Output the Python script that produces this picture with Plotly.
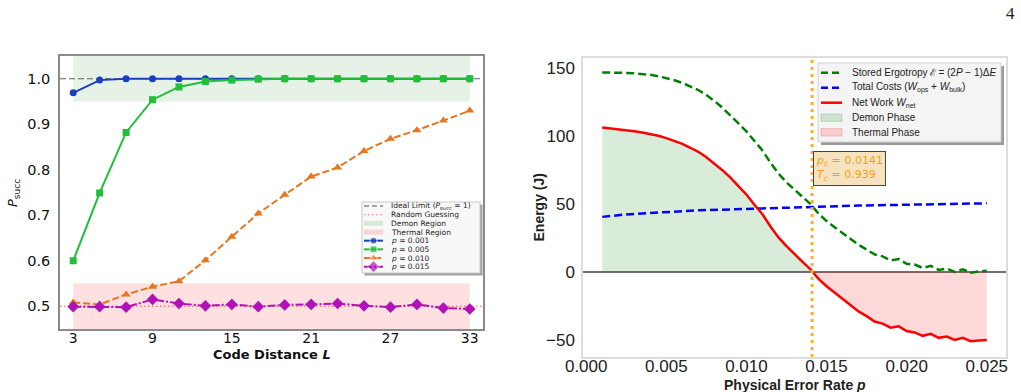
import plotly.graph_objects as go

W, H = 1021, 392

# ---------------- Left panel data ----------------
L = [3, 5, 7, 9, 11, 13, 15, 17, 19, 21, 23, 25, 27, 29, 31, 33]
succ_p001 = [0.969, 0.997, 1.0, 1.0, 1.0, 1.0, 1.0, 1.0, 1.0, 1.0, 1.0, 1.0, 1.0, 1.0, 1.0, 1.0]
succ_p005 = [0.600, 0.749, 0.882, 0.954, 0.982, 0.994, 0.997, 0.999, 1.0, 1.0, 1.0, 1.0, 1.0, 1.0, 1.0, 1.0]
succ_p010 = [0.508, 0.504, 0.526, 0.543, 0.555, 0.601, 0.653, 0.704, 0.745, 0.785, 0.805, 0.841, 0.868, 0.887, 0.908, 0.930]
succ_p015 = [0.499, 0.499, 0.498, 0.515, 0.506, 0.501, 0.504, 0.499, 0.503, 0.504, 0.506, 0.501, 0.498, 0.504, 0.496, 0.494]
series_labels = ["0.001", "0.005", "0.010", "0.015"]
L_ticks = [3, 9, 15, 21, 27, 33]
P_ticks = [0.5, 0.6, 0.7, 0.8, 0.9, 1.0]
ideal_limit = 1.0
random_guess = 0.5
demon_band = (0.95, 1.05)
thermal_band = (0.45, 0.55)

# ---------------- Right panel data ----------------
p_rate = [0.0010, 0.0015, 0.0020, 0.0025, 0.0030, 0.0035, 0.0040, 0.0045, 0.0050, 0.0055,
          0.0060, 0.0065, 0.0070, 0.0075, 0.0080, 0.0085, 0.0090, 0.0095, 0.0100, 0.0105,
          0.0110, 0.0115, 0.0120, 0.0125, 0.0130, 0.0135, 0.0140, 0.0145, 0.0150, 0.0155,
          0.0160, 0.0165, 0.0170, 0.0175, 0.0180, 0.0185, 0.0190, 0.0195, 0.0200, 0.0205,
          0.0210, 0.0215, 0.0220, 0.0225, 0.0230, 0.0235, 0.0240, 0.0245, 0.0250]
ergotropy = [147.0, 147.0, 146.8, 146.6, 146.3, 145.9, 145.2, 144.2, 142.8, 141.2,
             139.3, 136.8, 134.0, 130.3, 126.0, 121.0, 115.5, 109.5, 103.5, 96.5,
             89.5, 80.5, 72.5, 66.0, 60.5, 55.0, 50.0, 43.0, 37.5, 33.0,
             28.5, 24.5, 20.0, 16.5, 13.0, 11.5, 8.5, 9.5, 6.0, 5.5,
             3.0, 4.5, 1.5, 2.5, 0.0, 2.0, -0.5, 0.5, 1.0]
costs = [40.6, 41.3, 41.9, 42.4, 42.8, 43.2, 43.6, 43.9, 44.2, 44.5,
         44.8, 45.1, 45.4, 45.6, 45.8, 46.0, 46.2, 46.4, 46.6, 46.8,
         47.0, 47.2, 47.4, 47.6, 47.7, 47.8, 48.0, 48.1, 48.3, 48.4,
         48.6, 48.7, 48.9, 49.0, 49.1, 49.2, 49.4, 49.5, 49.6, 49.7,
         49.8, 49.9, 50.0, 50.1, 50.2, 50.3, 50.4, 50.5, 50.6]
net_work = [106.4, 105.8, 105.0, 104.3, 103.6, 102.8, 101.6, 100.3, 98.6, 96.5,
            94.3, 91.5, 88.5, 84.5, 80.0, 75.0, 69.5, 63.0, 57.0, 49.5,
            42.5, 33.5, 25.5, 19.0, 13.0, 7.5, 2.0, -5.0, -10.5, -15.0,
            -19.5, -24.5, -29.0, -32.5, -36.5, -38.0, -41.0, -40.0, -43.5, -44.5,
            -47.0, -45.5, -48.5, -47.5, -50.0, -48.5, -51.0, -50.5, -50.0]
p_c = 0.0141
T_c = 0.939
p_ticks = [0.000, 0.005, 0.010, 0.015, 0.020, 0.025]
E_ticks = [-50, 0, 50, 100, 150]

# ---------------- styles ----------------
C_BLUE, C_GREEN, C_ORANGE, C_PURPLE = "#1c3fbf", "#1fbf3a", "#e8761e", "#b012b8"
left_font = "DejaVu Sans"
right_font = "Liberation Sans, Arial"


def xd(px):
    return px / W


def yd(py):
    return 1 - py / H


fig = go.Figure()

# ---------- Left panel ----------
left_series = [
    (succ_p001, C_BLUE, "solid", "circle", 7),
    (succ_p005, C_GREEN, "solid", "square", 7),
    (succ_p010, C_ORANGE, "7px,3px", "triangle-up", 8),
    (succ_p015, C_PURPLE, "8px,2px,2px,2px", "diamond", 9),
]
for vals, col, dash, sym, size in left_series:
    fig.add_trace(go.Scatter(x=L, y=vals, mode="lines+markers", xaxis="x", yaxis="y",
                             line=dict(color=col, width=2, dash=dash),
                             marker=dict(symbol=sym, size=size, color=col),
                             showlegend=False))

shapes = []
shapes.append(dict(type="rect", xref="x", yref="y", x0=L[0], x1=L[-1], y0=demon_band[0], y1=demon_band[1],
                   fillcolor="rgba(0,128,0,0.1)", line=dict(width=0), layer="below"))
shapes.append(dict(type="rect", xref="x", yref="y", x0=L[0], x1=L[-1], y0=thermal_band[0], y1=thermal_band[1],
                   fillcolor="rgba(255,0,0,0.12)", line=dict(width=0), layer="below"))
shapes.append(dict(type="line", xref="x domain", yref="y", x0=0, x1=1, y0=ideal_limit, y1=ideal_limit,
                   line=dict(color="#666666", width=1.2, dash="6px,3px"), layer="below"))
shapes.append(dict(type="line", xref="x domain", yref="y", x0=0, x1=1, y0=random_guess, y1=random_guess,
                   line=dict(color="#ff8c8c", width=1.5, dash="1.5px,2.5px"), layer="below"))

# ---------- Right panel ----------
demon_x = [p for p, w in zip(p_rate, net_work) if p < p_c] + [p_c]
demon_y = [w for p, w in zip(p_rate, net_work) if p < p_c] + [0]
thermal_x = [p_c] + [p for p in p_rate if p > p_c]
thermal_y = [0] + [w for p, w in zip(p_rate, net_work) if p > p_c]
fig.add_trace(go.Scatter(x=demon_x, y=demon_y, mode="lines", fill="tozeroy", xaxis="x2", yaxis="y2",
                         fillcolor="rgba(0,128,0,0.15)", line=dict(width=0.8, color="rgba(0,128,0,0.15)"),
                         showlegend=False))
fig.add_trace(go.Scatter(x=thermal_x, y=thermal_y, mode="lines", fill="tozeroy", xaxis="x2", yaxis="y2",
                         fillcolor="rgba(255,0,0,0.15)", line=dict(width=0.8, color="rgba(255,0,0,0.15)"),
                         showlegend=False))
fig.add_trace(go.Scatter(x=p_rate, y=costs, mode="lines", xaxis="x2", yaxis="y2",
                         line=dict(color="#0000ff", width=2.5, dash="8px,4px"), showlegend=False))
fig.add_trace(go.Scatter(x=p_rate, y=ergotropy, mode="lines", xaxis="x2", yaxis="y2",
                         line=dict(color="#008000", width=2.5, dash="8px,4px"), showlegend=False))
fig.add_trace(go.Scatter(x=p_rate, y=net_work, mode="lines", xaxis="x2", yaxis="y2",
                         line=dict(color="#ff0000", width=2.5), showlegend=False))

shapes.append(dict(type="line", xref="x2 domain", yref="y2", x0=0, x1=1, y0=0, y1=0,
                   line=dict(color="#707070", width=1.8), layer="below"))
shapes.append(dict(type="line", xref="x2", yref="y2 domain", x0=p_c, x1=p_c, y0=0, y1=1,
                   line=dict(color="#ffad33", width=3, dash="3px,4px"), layer="above"))

# ---------- Left legend (mini axes in pixel units) ----------
LG = dict(x0=356, x1=488, y0=196, y1=281)
lbox = dict(x0=362, x1=480, y0=202, y1=273)
shapes.append(dict(type="rect", xref="x3", yref="y3", x0=lbox["x0"] + 2.5, x1=lbox["x1"] + 2.5,
                   y0=lbox["y0"] + 2.5, y1=lbox["y1"] + 2.5, fillcolor="#a0a0a0",
                   line=dict(width=0), layer="below"))
shapes.append(dict(type="rect", xref="x3", yref="y3", **lbox, fillcolor="#f8f8f8",
                   line=dict(color="#c8c8c8", width=1), layer="below"))
left_legend_text = ["Ideal Limit (<i>P</i><sub>succ</sub> = 1)", "Random Guessing", "Demon Region",
                    "Thermal Region"] + [f"<i>p</i> = {s}" for s in series_labels]
ly = [206 + 8.67 * i for i in range(8)]
hx0, hx1 = 364, 383
fig.add_trace(go.Scatter(x=[hx0, hx1], y=[ly[0], ly[0]], mode="lines", xaxis="x3", yaxis="y3",
                         line=dict(color="#555555", width=1.2, dash="5px,3px"), showlegend=False))
fig.add_trace(go.Scatter(x=[hx0, hx1], y=[ly[1], ly[1]], mode="lines", xaxis="x3", yaxis="y3",
                         line=dict(color="#ff8c8c", width=1.3, dash="1.5px,2.5px"), showlegend=False))
shapes.append(dict(type="rect", xref="x3", yref="y3", x0=hx0, x1=hx1, y0=ly[2] - 2.5, y1=ly[2] + 2.5,
                   fillcolor="rgba(0,128,0,0.12)", line=dict(width=0), layer="below"))
shapes.append(dict(type="rect", xref="x3", yref="y3", x0=hx0, x1=hx1, y0=ly[3] - 2.5, y1=ly[3] + 2.5,
                   fillcolor="rgba(255,0,0,0.14)", line=dict(width=0), layer="below"))
for i, (vals, col, dash, sym, size) in enumerate(left_series):
    yy = ly[4 + i]
    fig.add_trace(go.Scatter(x=[hx0, (hx0 + hx1) / 2, hx1], y=[yy, yy, yy], mode="lines+markers",
                             xaxis="x3", yaxis="y3", line=dict(color=col, width=2, dash=dash),
                             marker=dict(symbol=sym, size=[0, size, 0], color=col), showlegend=False))

annotations = []
for t, yy in zip(left_legend_text, ly):
    annotations.append(dict(xref="x3", yref="y3", x=389, y=yy, text=t, showarrow=False,
                            xanchor="left", yanchor="middle",
                            font=dict(family=left_font, size=7.5, color="#222222")))

# ---------- Right legend ----------
rbox = dict(x0=818, x1=1001, y0=63, y1=142)
shapes.append(dict(type="rect", xref="x4", yref="y4", x0=rbox["x0"] + 3, x1=rbox["x1"] + 3,
                   y0=rbox["y0"] + 3, y1=rbox["y1"] + 3, fillcolor="#9a9a9a",
                   line=dict(width=0), layer="below"))
shapes.append(dict(type="rect", xref="x4", yref="y4", **rbox, fillcolor="#f4f4f4",
                   line=dict(color="#d0d0d0", width=1), layer="below"))
ry = [72.7, 87.7, 102.7, 117.7, 132.3]
rx0, rx1 = 821, 842
fig.add_trace(go.Scatter(x=[rx0, rx1], y=[ry[0], ry[0]], mode="lines", xaxis="x4", yaxis="y4",
                         line=dict(color="#008000", width=2.5, dash="7px,4px"), showlegend=False))
fig.add_trace(go.Scatter(x=[rx0, rx1], y=[ry[1], ry[1]], mode="lines", xaxis="x4", yaxis="y4",
                         line=dict(color="#0000ff", width=2.5, dash="7px,4px"), showlegend=False))
fig.add_trace(go.Scatter(x=[rx0, rx1], y=[ry[2], ry[2]], mode="lines", xaxis="x4", yaxis="y4",
                         line=dict(color="#ff0000", width=2.5), showlegend=False))
shapes.append(dict(type="rect", xref="x4", yref="y4", x0=rx0, x1=rx1, y0=ry[3] - 3.7, y1=ry[3] + 3.7,
                   fillcolor="rgba(0,128,0,0.15)", line=dict(color="rgba(0,128,0,0.2)", width=1), layer="below"))
shapes.append(dict(type="rect", xref="x4", yref="y4", x0=rx0, x1=rx1, y0=ry[4] - 3.7, y1=ry[4] + 3.7,
                   fillcolor="rgba(255,0,0,0.15)", line=dict(color="rgba(255,0,0,0.2)", width=1), layer="below"))
right_legend_text = ["Stored Ergotropy ℰ&#8201;= (2<i>P</i> − 1)Δ<i>E</i>",
                     "Total Costs (<i>W</i><sub>ops</sub> + <i>W</i><sub>bulk</sub>)",
                     "Net Work <i>W</i><sub>net</sub>", "Demon Phase", "Thermal Phase"]
for t, yy in zip(right_legend_text, ry):
    annotations.append(dict(xref="x4", yref="y4", x=850, y=yy, text=t, showarrow=False,
                            xanchor="left", yanchor="middle",
                            font=dict(family=right_font, size=10, color="#222222")))

# p_c annotation
annotations.append(dict(xref="x2", yref="y2", x=p_c, y=76, xshift=1, xanchor="left", yanchor="middle",
                        text=f"<i>p<sub>c</sub></i> = {p_c}<br><i>T<sub>c</sub></i> = {T_c}",
                        showarrow=False, align="left", bgcolor="rgba(245,222,179,0.85)",
                        bordercolor="#444444", borderwidth=1, borderpad=2,
                        font=dict(family=left_font, size=11, color="#f5a01a")))

# Axis titles and page number
annotations += [
    dict(xref="paper", yref="paper", x=xd(271.5), y=yd(354), text="<b>Code Distance <i>L</i></b>",
         showarrow=False, xanchor="center", yanchor="middle", font=dict(family=left_font, size=13, color="#111")),
    dict(xref="paper", yref="paper", x=xd(13), y=yd(193), text="<i>P</i><sub>succ</sub>", textangle=-90,
         showarrow=False, xanchor="center", yanchor="middle", font=dict(family=left_font, size=13, color="#111")),
    dict(xref="paper", yref="paper", x=xd(794.5), y=yd(385), text="<b>Physical Error Rate <i>p</i></b>",
         showarrow=False, xanchor="center", yanchor="middle", font=dict(family=right_font, size=14, color="#222")),
    dict(xref="paper", yref="paper", x=xd(538), y=yd(207.5), text="<b>Energy (J)</b>", textangle=-90,
         showarrow=False, xanchor="center", yanchor="middle", font=dict(family=right_font, size=14, color="#222")),
    dict(xref="paper", yref="paper", x=xd(1010), y=yd(14), text="4",
         showarrow=False, xanchor="center", yanchor="middle", font=dict(family="Liberation Serif, DejaVu Serif", size=17, color="#222")),
]

hidden = dict(visible=False, showgrid=False, zeroline=False, fixedrange=True, automargin=False)

fig.update_layout(
    width=W, height=H, margin=dict(l=0, r=0, t=0, b=0, pad=0, autoexpand=False),
    paper_bgcolor="white", plot_bgcolor="rgba(0,0,0,0)",
    font=dict(family=left_font),
    showlegend=False,
    xaxis=dict(domain=[xd(60), xd(483)], anchor="y", range=[2, 34], tickvals=L_ticks, automargin=False,
               showgrid=False, zeroline=False, showline=True, mirror=True, linecolor="#8a8a8a", linewidth=1.5,
               ticks="", ticklabelstandoff=-5, tickfont=dict(family=left_font, size=14, color="#111")),
    yaxis=dict(domain=[yd(329), yd(56)], anchor="x", range=[thermal_band[0], demon_band[1]], tickvals=P_ticks,
               tickformat=".1f", showgrid=False, zeroline=False, showline=True, mirror=True, automargin=False,
               linecolor="#8a8a8a", linewidth=1.5, ticks="", ticklabelstandoff=5,
               tickfont=dict(family=left_font, size=14.5, color="#111")),
    xaxis2=dict(domain=[xd(583), xd(1006)], anchor="y2", range=[-0.0002, 0.0262], tickvals=p_ticks,
                tickformat=".3f", showgrid=False, zeroline=False, showline=True, mirror=True, automargin=False,
                linecolor="#dddddd", linewidth=1.5, ticks="", ticklabelstandoff=-7,
                tickfont=dict(family=right_font, size=17, color="#222")),
    yaxis2=dict(domain=[yd(357), yd(58)], anchor="x2", range=[-62.6, 157.6], tickvals=E_ticks,
                showgrid=False, zeroline=False, showline=True, mirror=True, automargin=False,
                linecolor="#dddddd", linewidth=1.5, ticks="", ticklabelstandoff=3,
                tickfont=dict(family=right_font, size=17, color="#222")),
    xaxis3=dict(domain=[xd(LG["x0"]), xd(LG["x1"])], anchor="y3", range=[LG["x0"], LG["x1"]], **hidden),
    yaxis3=dict(domain=[yd(LG["y1"]), yd(LG["y0"])], anchor="x3", range=[LG["y1"], LG["y0"]], **hidden),
    xaxis4=dict(domain=[xd(812), xd(1010)], anchor="y4", range=[812, 1010], **hidden),
    yaxis4=dict(domain=[yd(150), yd(57)], anchor="x4", range=[150, 57], **hidden),
    shapes=shapes,
    annotations=annotations,
)

fig.write_html("out.html")
